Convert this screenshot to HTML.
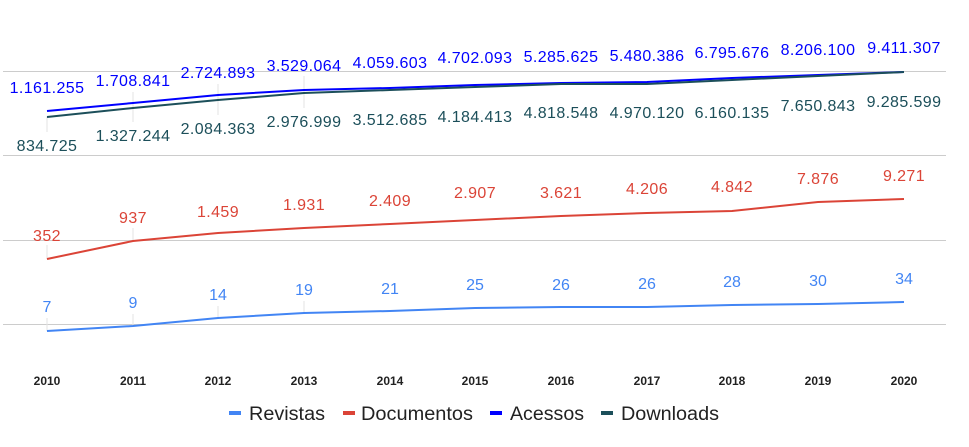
<!DOCTYPE html>
<html><head><meta charset="utf-8"><style>
html,body{margin:0;padding:0;background:#fff;}
svg{display:block;font-family:"Liberation Sans",Roboto,sans-serif;}
</style></head><body>
<svg width="969" height="447" viewBox="0 0 969 447">
<g stroke="#cccccc" stroke-width="1">
<line x1="3" y1="71.5" x2="946" y2="71.5"/>
<line x1="3" y1="155.5" x2="946" y2="155.5"/>
<line x1="3" y1="240.5" x2="946" y2="240.5"/>
<line x1="3" y1="324.5" x2="946" y2="324.5"/>
</g>
<g stroke="#e3e3e3" stroke-width="1">
<line x1="47" y1="318" x2="47" y2="331"/><line x1="133" y1="314" x2="133" y2="326"/><line x1="218" y1="306" x2="218" y2="318"/><line x1="304" y1="301" x2="304" y2="313"/>
<line x1="47" y1="245" x2="47" y2="259"/><line x1="133" y1="228" x2="133" y2="241"/>
<line x1="47" y1="117" x2="47" y2="132"/><line x1="133" y1="92" x2="133" y2="122"/><line x1="218" y1="84" x2="218" y2="115"/><line x1="304" y1="76" x2="304" y2="108"/>
</g>
<polyline fill="none" stroke="#0000ff" stroke-width="2" points="47,111 133,103 218,95 304,90 390,88 475,85 561,83 647,82 732,78 818,75 904,72"/>
<polyline fill="none" stroke="#1c4f5a" stroke-width="2" points="47,117 133,108 218,100 304,93 390,90 475,87 561,84 647,84 732,80 818,76 904,72"/>
<polyline fill="none" stroke="#db4437" stroke-width="2" points="47,259 133,241 218,233 304,228 390,224 475,220 561,216 647,213 732,211 818,202 904,199"/>
<polyline fill="none" stroke="#4285f4" stroke-width="2" points="47,331 133,326 218,318 304,313 390,311 475,308 561,307 647,307 732,305 818,304 904,302"/>
<g font-size="16" text-anchor="middle" fill="#0000ff" letter-spacing="0.4">
<text x="47" y="93">1.161.255</text><text x="133" y="86">1.708.841</text><text x="218" y="78">2.724.893</text><text x="304" y="71">3.529.064</text><text x="390" y="68">4.059.603</text><text x="475" y="63">4.702.093</text><text x="561" y="62">5.285.625</text><text x="647" y="61">5.480.386</text><text x="732" y="58">6.795.676</text><text x="818" y="55">8.206.100</text><text x="904" y="53">9.411.307</text>
</g>
<g font-size="16" text-anchor="middle" fill="#1c4f5a" letter-spacing="0.4">
<text x="47" y="151">834.725</text><text x="133" y="141">1.327.244</text><text x="218" y="134">2.084.363</text><text x="304" y="127">2.976.999</text><text x="390" y="125">3.512.685</text><text x="475" y="122">4.184.413</text><text x="561" y="118">4.818.548</text><text x="647" y="118">4.970.120</text><text x="732" y="118">6.160.135</text><text x="818" y="111">7.650.843</text><text x="904" y="107">9.285.599</text>
</g>
<g font-size="16" text-anchor="middle" fill="#db4437" letter-spacing="0.4">
<text x="47" y="241">352</text><text x="133" y="223">937</text><text x="218" y="217">1.459</text><text x="304" y="210">1.931</text><text x="390" y="206">2.409</text><text x="475" y="198">2.907</text><text x="561" y="198">3.621</text><text x="647" y="194">4.206</text><text x="732" y="192">4.842</text><text x="818" y="184">7.876</text><text x="904" y="181">9.271</text>
</g>
<g font-size="16" text-anchor="middle" fill="#4285f4">
<text x="47" y="312">7</text><text x="133" y="308">9</text><text x="218" y="300">14</text><text x="304" y="295">19</text><text x="390" y="294">21</text><text x="475" y="290">25</text><text x="561" y="290">26</text><text x="647" y="289">26</text><text x="732" y="287">28</text><text x="818" y="286">30</text><text x="904" y="284">34</text>
</g>
<g font-size="12" font-weight="bold" text-anchor="middle" fill="#222">
<text x="47" y="385">2010</text><text x="133" y="385">2011</text><text x="218" y="385">2012</text><text x="304" y="385">2013</text><text x="390" y="385">2014</text><text x="475" y="385">2015</text><text x="561" y="385">2016</text><text x="647" y="385">2017</text><text x="732" y="385">2018</text><text x="818" y="385">2019</text><text x="904" y="385">2020</text>
</g>
<g font-size="19" fill="#222">
<rect x="229" y="411" width="12" height="4" fill="#4285f4"/><text x="249" y="420" textLength="76" lengthAdjust="spacingAndGlyphs">Revistas</text>
<rect x="343" y="411" width="12" height="4" fill="#db4437"/><text x="361" y="420" textLength="112" lengthAdjust="spacingAndGlyphs">Documentos</text>
<rect x="490" y="411" width="12" height="4" fill="#0000ff"/><text x="510" y="420" textLength="74" lengthAdjust="spacingAndGlyphs">Acessos</text>
<rect x="601" y="411" width="12" height="4" fill="#1c4f5a"/><text x="621" y="420" textLength="98" lengthAdjust="spacingAndGlyphs">Downloads</text>
</g>
</svg>
</body></html>
